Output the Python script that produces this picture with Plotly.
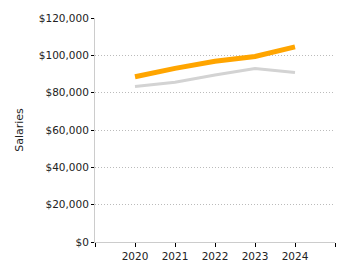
import plotly.graph_objects as go

years = ["2020", "2021", "2022", "2023", "2024"]
salaries_a = [88500, 93000, 96800, 99400, 104500]
salaries_b = [83300, 85600, 89500, 92900, 90800]
y_ticks = [0, 20000, 40000, 60000, 80000, 100000, 120000]
y_labels = ["$0", "$20,000", "$40,000", "$60,000", "$80,000", "$100,000", "$120,000"]

xpos = list(range(len(years)))

fig = go.Figure()
fig.add_trace(go.Scatter(x=xpos, y=salaries_b, mode="lines",
                         line=dict(color="#d3d3d3", width=3), showlegend=False))
fig.add_trace(go.Scatter(x=xpos, y=salaries_a, mode="lines",
                         line=dict(color="#FFA500", width=5), showlegend=False))

font = dict(family="DejaVu Sans", size=10.5, color="#222")
fig.update_layout(
    width=350, height=275,
    margin=dict(l=95, r=15, t=15, b=33),
    paper_bgcolor="white", plot_bgcolor="white",
    font=font,
    xaxis=dict(range=[-1, 5], tickvals=list(range(-1, 6)),
               ticktext=[""] + years + [""],
               showgrid=False, zeroline=False,
               showline=True, linecolor="#ccc", linewidth=1,
               ticks="outside", ticklen=4, tickcolor="#000", tickwidth=1,
               tickfont=font),
    yaxis=dict(range=[0, 120000], tickvals=y_ticks, ticktext=y_labels,
               showgrid=True, gridcolor="#bbb", griddash="1px,2px", gridwidth=1,
               zeroline=False, showline=True, linecolor="#ccc", linewidth=1,
               ticks="outside", ticklen=3, tickcolor="#000", tickwidth=1,
               tickfont=font,
               title=dict(text="Salaries", font=dict(family="DejaVu Sans", size=11, color="#222"),
                          standoff=12)),
)
fig.write_html("out.html")
